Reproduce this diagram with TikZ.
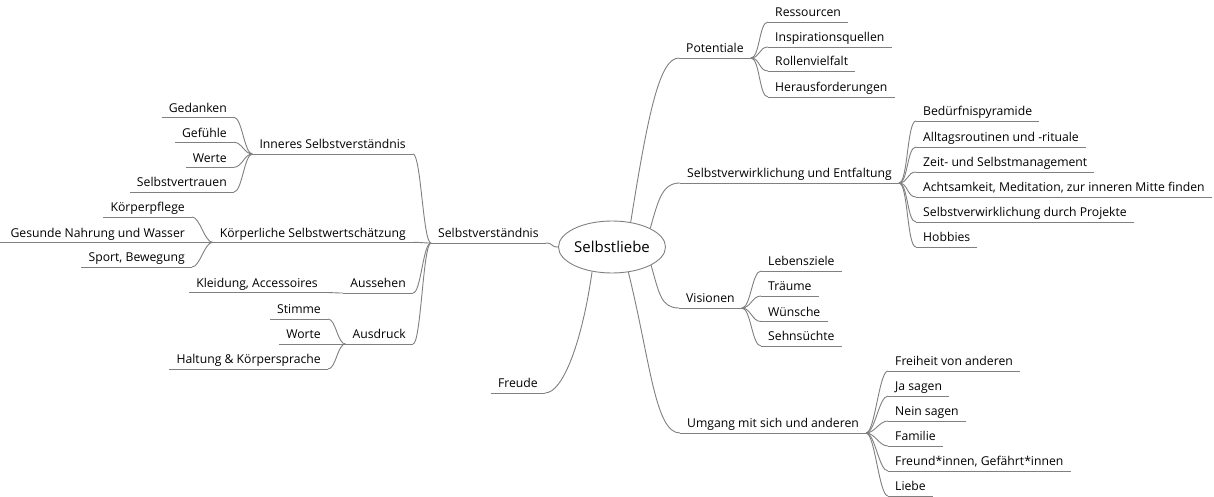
\documentclass[tikz,border=0pt]{standalone}
\usepackage{fontspec}
\setmainfont{Open Sans}
\usetikzlibrary{shapes.geometric}
\definecolor{linegray}{HTML}{808080}
\tikzset{
  ln/.style={draw=linegray, line width=0.9pt},
  lbl/.style={font=\fontsize{12.2}{14}\selectfont, text=black, inner xsep=7pt, inner ysep=5pt, text height=9pt, text depth=0pt},
  rn/.style={lbl, anchor=south west},
  lnode/.style={lbl, anchor=south east},
}
\newcommand\mmR[2]{\draw[ln] (#1.south east) .. controls +(9,0) and +(-9,0) .. (#2.south west);}
\newcommand\mmL[2]{\draw[ln] (#1.south west) .. controls +(-8,0) and +(8,0) .. (#2.south east);}
\begin{document}
\begin{tikzpicture}[x=1pt,y=-1pt]
\fill[white] (0,0) rectangle (1214,497);
\useasboundingbox (0,0) rectangle (1214,497);
% centre
\node[ellipse, draw=linegray, line width=0.9pt, minimum width=94pt, minimum height=52pt, inner sep=0pt, font=\fontsize{15}{18}\selectfont] (sl) at (612,247) {Selbstliebe};
% right side
\node[rn] (pot) at (679,58) {Potentiale};
\node[rn] (res) at (768,22) {Ressourcen};
\node[rn] (insp) at (768,47) {Inspirationsquellen};
\node[rn] (rol) at (768,71) {Rollenvielfalt};
\node[rn] (her) at (768,97) {Herausforderungen};
\node[rn] (sv) at (680,183) {Selbstverwirklichung und Entfaltung};
\node[rn] (bed) at (916,121) {Bedürfnispyramide};
\node[rn] (all) at (916,147) {Alltagsroutinen und -rituale};
\node[rn] (zeit) at (916,172) {Zeit- und Selbstmanagement};
\node[rn] (acht) at (916,197) {Achtsamkeit, Meditation, zur inneren Mitte finden};
\node[rn] (proj) at (916,222) {Selbstverwirklichung durch Projekte};
\node[rn] (hob) at (916,247) {Hobbies};
\node[rn] (vis) at (679,308) {Visionen};
\node[rn] (leb) at (761,271) {Lebensziele};
\node[rn] (trae) at (761,296) {Träume};
\node[rn] (wue) at (761,321.5) {Wünsche};
\node[rn] (sehn) at (761,346) {Sehnsüchte};
\node[rn] (umg) at (680,433) {Umgang mit sich und anderen};
\node[rn] (frei) at (888,371) {Freiheit von anderen};
\node[rn] (ja) at (888,396) {Ja sagen};
\node[rn] (nein) at (888,421) {Nein sagen};
\node[rn] (fam) at (888,446) {Familie};
\node[rn] (freund) at (888,471) {Freund*innen, Gefährt*innen};
\node[rn] (liebe) at (888,496) {Liebe};
% left side
\node[rn] (svs) at (431,243) {Selbstverständnis};
\node[lnode] (inn) at (413,154) {Inneres Selbstverständnis};
\node[lnode] (ged) at (234,117.3) {Gedanken};
\node[lnode] (gef) at (234,142.3) {Gefühle};
\node[lnode] (wer) at (234,167.3) {Werte};
\node[lnode] (svt) at (234,192) {Selbstvertrauen};
\node[lnode] (koe) at (413,242.3) {Körperliche Selbstwertschätzung};
\node[lnode] (pfl) at (192,217) {Körperpflege};
\node[lnode] (ges) at (192,242.3) {Gesunde Nahrung und Wasser};
\coordinate (gesend) at (0,242.3);
\node[lnode] (spo) at (192,267) {Sport, Bewegung};
\node[lnode] (aus) at (413,293) {Aussehen};
\node[lnode] (kle) at (325,292.5) {Kleidung, Accessoires};
\node[lnode] (ausd) at (413,344) {Ausdruck};
\node[lnode] (sti) at (328,319) {Stimme};
\node[lnode] (wor) at (328,344) {Worte};
\node[lnode] (hal) at (328,369) {Haltung \& Körpersprache};
\node[lnode] (freude) at (545,393) {Freude};
% underlines
\foreach \n in {pot,res,insp,rol,her,sv,bed,all,zeit,acht,proj,hob,vis,leb,trae,wue,sehn,umg,frei,ja,nein,fam,freund,liebe,svs,inn,ged,gef,wer,svt,koe,pfl,spo,aus,kle,ausd,sti,wor,hal,freude}
  \draw[ln] (\n.south west) -- (\n.south east);
\draw[ln] (gesend) -- (ges.south east);
% main branches
\draw[ln] (sl.53) .. controls +(18,-113) and +(-19,0) .. (pot.south west);
\draw[ln] (sl.26) .. controls +(8,-28) and +(-18,0) .. (sv.south west);
\draw[ln] (sl.-25) .. controls +(8,28) and +(-18,0) .. (vis.south west);
\draw[ln] (sl.-57) .. controls +(22,89) and +(-25,0) .. (umg.south west);
\draw[ln] (sl.-129) .. controls +(-10,70) and +(18,0) .. (freude.south east);
\draw[ln] (sl.west) .. controls +(-8,0) and +(8,0) .. (svs.south east);
% sub branches
\mmR{pot}{res}\mmR{pot}{insp}\mmR{pot}{rol}\mmR{pot}{her}
\mmR{sv}{bed}\mmR{sv}{all}\mmR{sv}{zeit}\mmR{sv}{acht}\mmR{sv}{proj}\mmR{sv}{hob}
\mmR{vis}{leb}\mmR{vis}{trae}\mmR{vis}{wue}\mmR{vis}{sehn}
\mmR{umg}{frei}\mmR{umg}{ja}\mmR{umg}{nein}\mmR{umg}{fam}\mmR{umg}{freund}\mmR{umg}{liebe}
\mmL{svs}{inn}\mmL{svs}{koe}\mmL{svs}{aus}\mmL{svs}{ausd}
\mmL{inn}{ged}\mmL{inn}{gef}\mmL{inn}{wer}\mmL{inn}{svt}
\mmL{koe}{pfl}\mmL{koe}{ges}\mmL{koe}{spo}
\mmL{aus}{kle}
\mmL{ausd}{sti}\mmL{ausd}{wor}\mmL{ausd}{hal}
\end{tikzpicture}
\end{document}
